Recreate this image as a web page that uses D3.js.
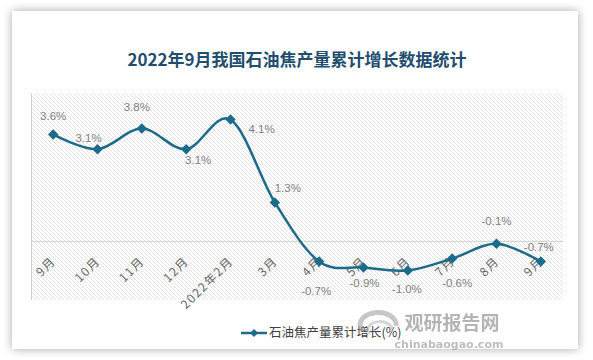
<!DOCTYPE html>
<html><head><meta charset="utf-8">
<script src="https://cdn.jsdelivr.net/npm/d3@7"></script>
<style>html,body{margin:0;padding:0;background:#fff;}svg{display:block;}</style>
</head><body>
<svg id="c" width="593" height="360"></svg>
<script>
const categories = ["9月","10月","11月","12月","2022年2月","3月","4月","5月","6月","7月","8月","9月"];
const values = [3.6, 3.1, 3.8, 3.1, 4.1, 1.3, -0.7, -0.9, -1.0, -0.6, -0.1, -0.7];
const title = "2022年9月我国石油焦产量累计增长数据统计";
const seriesName = "石油焦产量累计增长(%)";
const yDomain = [-2, 5];

const svg = d3.select("#c");
const defs = svg.append("defs");
const f = defs.append("filter").attr("id","sh").attr("x","-10%").attr("y","-10%").attr("width","120%").attr("height","120%");
f.append("feGaussianBlur").attr("in","SourceAlpha").attr("stdDeviation",5);
f.append("feComponentTransfer").append("feFuncA").attr("type","linear").attr("slope",0.35);
const fm = f.append("feMerge"); fm.append("feMergeNode"); fm.append("feMergeNode").attr("in","SourceGraphic");
const pat = defs.append("pattern").attr("id","hatch").attr("patternUnits","userSpaceOnUse").attr("width",4).attr("height",4);
pat.append("path").attr("d","M-1,-1 L5,5 M3,-1 L5,1 M-1,3 L1,5").attr("stroke","#dcdcdc").attr("stroke-width",0.8);

svg.append("rect").attr("x",12).attr("y",11).attr("width",566).attr("height",338).attr("fill","#fff").attr("filter","url(#sh)");

svg.append("text").attr("x",297).attr("y",66).attr("text-anchor","middle")
  .attr("font-family","'Noto Sans CJK SC',sans-serif").attr("font-weight","bold").attr("font-size",17)
  .attr("fill","#1f4e6e").text(title);

const L=31,R=563,T=93,B=300;
svg.append("rect").attr("x",L).attr("y",T).attr("width",R-L).attr("height",B-T).attr("fill","url(#hatch)");
svg.append("line").attr("x1",L+0.5).attr("x2",L+0.5).attr("y1",T).attr("y2",B).attr("stroke","#d0d0d0");

const x = d3.scalePoint().domain(d3.range(categories.length)).range([L,R]).padding(0.5);
const y = d3.scaleLinear().domain(yDomain).range([B,T]);

svg.append("line").attr("x1",L).attr("x2",R).attr("y1",y(0)+0.5).attr("y2",y(0)+0.5).attr("stroke","#d0d0d0");

const ax = svg.append("g").attr("transform",`translate(0,${y(0)})`)
  .call(d3.axisBottom(x).tickSize(0).tickFormat(i=>categories[i]));
ax.select(".domain").remove();
ax.selectAll("text").attr("font-family","'Noto Sans CJK SC',sans-serif").attr("font-size",12).attr("fill","#666")
  .attr("letter-spacing","1.5px")
  .attr("text-anchor","end").attr("dy",0).attr("y",0)
  .attr("transform","translate(3,21) rotate(-45)");

const line = d3.line().x((d,i)=>x(i)).y(d=>y(d)).curve(d3.curveCatmullRom.alpha(0));
svg.append("path").datum(values).attr("d",line).attr("fill","none").attr("stroke","#1c6b8a").attr("stroke-width",2.5);

const sym = d3.symbol().type(d3.symbolDiamond2).size(70);
svg.selectAll(".m").data(values).enter().append("path").attr("d",sym)
  .attr("transform",(d,i)=>`translate(${x(i)},${y(d)})`).attr("fill","#1c6b8a");

const offs = [[0,-18],[-9,-11],[-5,-22],[12,11],[31,9],[13,-14],[-3,29],[1,16],[-1,19],[5,24],[0,-23],[-2,-15]];
svg.selectAll(".dl").data(values).enter().append("text")
  .attr("x",(d,i)=>x(i)+offs[i][0]).attr("y",(d,i)=>y(d)+offs[i][1]).attr("dy","0.35em")
  .attr("text-anchor","middle").attr("font-family","'Liberation Sans',sans-serif").attr("font-size",11.5)
  .attr("fill","#7f7f7f").text(d=>d.toFixed(1)+"%");

// legend
const lg = svg.append("g");
lg.append("line").attr("x1",241).attr("x2",267).attr("y1",333).attr("y2",333).attr("stroke","#1c6b8a").attr("stroke-width",2.5);
lg.append("path").attr("d",d3.symbol().type(d3.symbolDiamond2).size(40)).attr("transform","translate(254,333)").attr("fill","#1c6b8a");
lg.append("text").attr("x",269).attr("y",333).attr("dy","0.35em").attr("font-family","'Noto Sans CJK SC',sans-serif")
  .attr("font-size",12.5).attr("fill","#404040").text(seriesName);

// watermark
const wm = svg.append("g").attr("opacity",0.55);
wm.append("path").attr("d","M362,330 A18,12 0 1,1 396,326").attr("fill","none").attr("stroke","#9a9a9a").attr("stroke-width",5);
wm.append("path").attr("d","M370,334 A12,8 0 1,1 392,330").attr("fill","none").attr("stroke","#b5b5b5").attr("stroke-width",3);
wm.append("text").attr("x",452).attr("y",323).attr("dy","0.35em").attr("text-anchor","middle")
  .attr("font-family","'Noto Sans CJK SC',sans-serif").attr("font-weight","bold").attr("font-size",19).attr("fill","#777").text("观研报告网");
wm.append("text").attr("x",449).attr("y",344).attr("dy","0.35em").attr("text-anchor","middle")
  .attr("font-family","'DejaVu Sans',sans-serif").attr("font-weight","bold").attr("font-size",11).attr("fill","#888").text("chinabaogao.com");
</script>
</body></html>
